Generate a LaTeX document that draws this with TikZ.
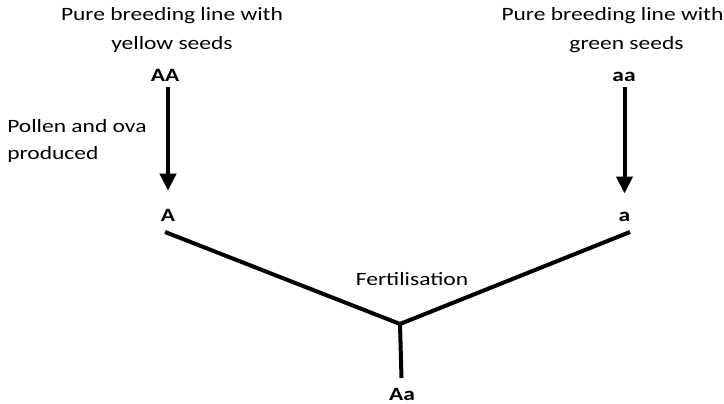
\documentclass[tikz,border=0pt]{standalone}
\usepackage{fontspec}
\setmainfont{Carlito}
\usetikzlibrary{arrows.meta}
\begin{document}
\begin{tikzpicture}[x=1pt,y=-1pt,
  lbl/.style={inner sep=0pt, xscale=1.25, font=\fontsize{18.8}{29}\selectfont},
  gen/.style={inner sep=0pt, xscale=1.25, font=\fontsize{18.8}{22}\selectfont\bfseries, anchor=base},
  thickline/.style={line width=4pt},
  arr/.style={line width=4pt, -{Triangle[length=17pt,width=16pt]}, shorten <=5pt, shorten >=19pt}]
\useasboundingbox (0,0) rectangle (724,404);
\node[lbl, align=center, anchor=base] (tl) at (172,50) {Pure breeding line with\\yellow seeds};
\node[lbl, align=center, anchor=base] (tr) at (612.5,50) {Pure breeding line with\\\hspace*{22.4pt}green seeds};
\node[lbl, align=left, anchor=base west, font=\fontsize{18.8}{26.6}\selectfont] (pol) at (7,159.3) {Pollen and ova\\produced};
\node[gen] (AA) at (165,82) {AA};
\node[gen] (aa) at (624,82) {aa};
\node[gen] (A) at (168,222) {A};
\node[gen] (a) at (624.5,222) {a};
\node[gen] (Aa) at (402,400.5) {Aa};
\node[lbl, anchor=base] (fert) at (412,285) {Fertilisation};
\coordinate (Al) at (165,232);
\coordinate (ar) at (630,232);
\coordinate (v) at (400,324);
\coordinate (d) at (401.5,378);
\draw[arr] (AA.south -| A.north) -- (A.north);
\draw[arr] (aa.south -| a.north) -- (a.north);
\draw[thickline] (Al) -- (v) -- (ar);
\draw[thickline] (v) -- (d);
\end{tikzpicture}
\end{document}
